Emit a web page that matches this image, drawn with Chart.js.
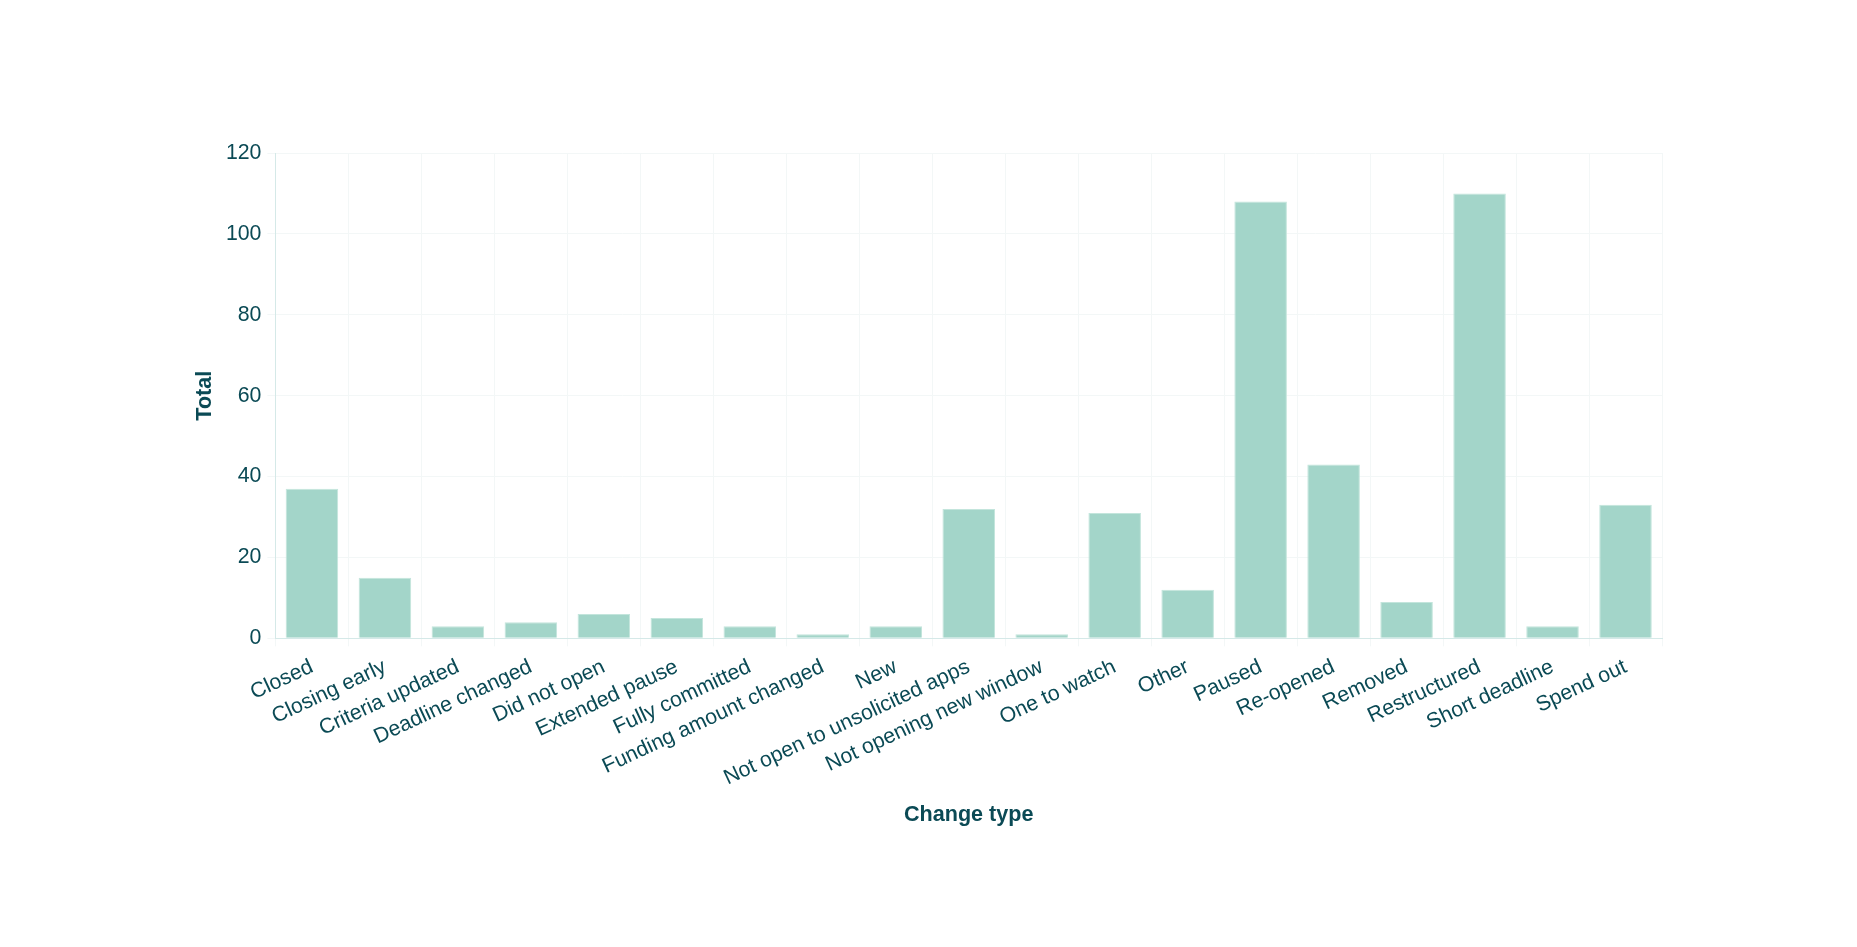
<!DOCTYPE html>
<html>
<head>
<meta charset="utf-8">
<title>Change type totals</title>
<script src="https://cdn.jsdelivr.net/npm/chart.js@4/dist/chart.umd.min.js"></script>
<style>
    html, body { margin: 0; padding: 0; background: #ffffff; }
    #wrap { width: 1857px; height: 947px; }
</style>
</head>
<body>
<div id="wrap"><canvas id="chart_changes"></canvas></div>
<script>
var change_types = [
    "Closed", "Closing early", "Criteria updated", "Deadline changed", "Did not open",
    "Extended pause", "Fully committed", "Funding amount changed", "New",
    "Not open to unsolicited apps", "Not opening new window", "One to watch", "Other",
    "Paused", "Re-opened", "Removed", "Restructured", "Short deadline", "Spend out"
];
var totals = [37, 15, 3, 4, 6, 5, 3, 1, 3, 32, 1, 31, 12, 108, 43, 9, 110, 3, 33];
var y_ticks = [0, 20, 40, 60, 80, 100, 120];

var text_color = "#0b4a55";
var grid_color = "#f3f7f7";
var border_color = "#d5e9e8";

Chart.defaults.font.family = "'Liberation Sans', Arial, sans-serif";
Chart.defaults.color = text_color;

var changes_chart = new Chart(document.getElementById("chart_changes"), {
    type: "bar",
    data: {
        labels: change_types,
        datasets: [{
            label: "Total",
            data: totals,
            backgroundColor: "#a3d5c9",
            borderColor: "#c3e5dc",
            borderWidth: 1
        }]
    },
    options: {
        responsive: true,
        maintainAspectRatio: false,
        devicePixelRatio: 1,
        animation: false,
        layout: {
            padding: { left: 188, right: 195, top: 153, bottom: 114.5 }
        },
        plugins: {
            legend: { display: false },
            tooltip: { enabled: false }
        },
        scales: {
            x: {
                grid: { color: grid_color, tickLength: 8 },
                border: { color: border_color },
                ticks: {
                    font: { size: 21.3 },
                    color: text_color,
                    autoSkip: false,
                    padding: 8,
                    minRotation: 25,
                    maxRotation: 25
                },
                title: {
                    display: true,
                    text: "Change type",
                    font: { size: 21.6, weight: "bold" },
                    color: text_color,
                    padding: { top: 3.5, bottom: 4 }
                }
            },
            y: {
                min: 0,
                max: 120,
                afterBuildTicks: function(axis) {
                    axis.ticks = y_ticks.map(function(v) { return { value: v }; });
                },
                grid: { color: grid_color, tickLength: 8 },
                border: { color: border_color },
                ticks: {
                    font: { size: 21.3 },
                    color: text_color,
                    padding: 6
                },
                title: {
                    display: true,
                    text: "Total",
                    font: { size: 21.6, weight: "bold" },
                    color: text_color,
                    padding: { top: 4, bottom: 2 }
                }
            }
        }
    }
});
</script>
</body>
</html>
